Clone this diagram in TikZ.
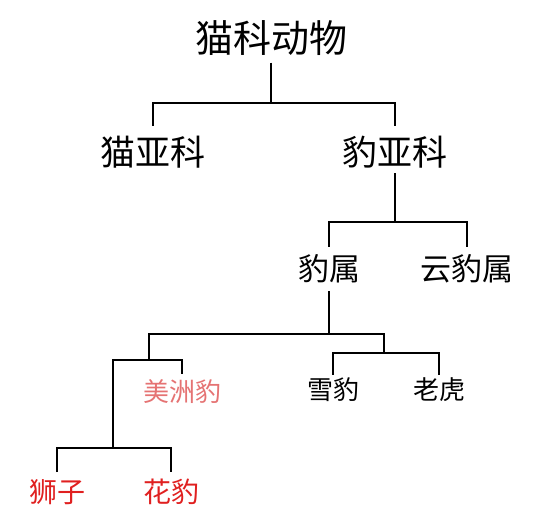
\documentclass[tikz,border=0pt]{standalone}
\usepackage{fontspec}
\setmainfont{Noto Sans CJK SC}
\usetikzlibrary{positioning}
\definecolor{paleRed}{HTML}{E57373}
\definecolor{brightRed}{HTML}{E02020}

\begin{document}
\begin{tikzpicture}[x=1pt, y=-1pt,
    branch/.style={line width=1.8pt},
    rank/.style={inner sep=0pt, font=\fontsize{#1}{#1}\selectfont}]
    \useasboundingbox (0,0) rectangle (554,523);
    % taxa
    \node[rank=38] (felidae) at (271,38) {猫科动物};
    \node[rank=35] (felinae) at (153,152) {猫亚科};
    \node[rank=35] (pantherinae) at (395,152) {豹亚科};
    \node[rank=31] (panthera) at (329,269) {豹属};
    \node[rank=31] (neofelis) at (467,269) {云豹属};
    \node[rank=26, text=paleRed] (jaguar) at (182,392) {美洲豹};
    \node[rank=26] (snowleopard) at (333,390) {雪豹};
    \node[rank=26] (tiger) at (439,390) {老虎};
    \node[rank=28, text=brightRed] (lion) at (57,492) {狮子};
    \node[rank=28, text=brightRed] (leopard) at (171,492) {花豹};
    % junctions
    \coordinate (j1) at (271,103);
    \coordinate (j2) at (395,222);
    \coordinate (j3) at (329,334);
    \coordinate (j4) at (149,360);
    \coordinate (j5) at (113,448);
    \coordinate (j6) at (384,353);
    % branches
    \draw[branch] ([yshift=-7pt]felidae.south) -- (j1);
    \draw[branch] ([yshift=10pt]felinae.north) |- (j1) -| ([yshift=10pt]pantherinae.north);
    \draw[branch] ([yshift=-5pt]pantherinae.south) -- (j2);
    \draw[branch] ([yshift=8pt]panthera.north) |- (j2) -| ([yshift=8pt]neofelis.north);
    \draw[branch] ([yshift=-8pt]panthera.south) -- (j3);
    \draw[branch] (j4) |- (j3) -| (j6);
    \draw[branch] (j5) |- (j4) -| ([yshift=6pt]jaguar.north);
    \draw[branch] ([yshift=7pt]lion.north) |- (j5) -| ([yshift=7pt]leopard.north);
    \draw[branch] ([yshift=3pt]snowleopard.north) |- (j6) -| ([yshift=3pt]tiger.north);
\end{tikzpicture}
\end{document}
